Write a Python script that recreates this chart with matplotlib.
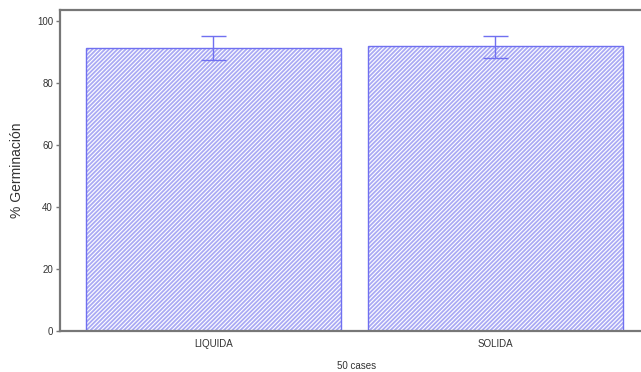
import matplotlib
matplotlib.use("Agg")
import matplotlib.pyplot as plt
import numpy as np

# germination by culture medium
groups    = ["LIQUIDA", "SOLIDA"]
germ_mean = [91.3, 91.9]
err_low   = [87.4, 88.1]
err_high  = [95.2, 95.2]

plt.rcParams['font.family'] = ['Liberation Sans', 'DejaVu Sans']
plt.rcParams['hatch.linewidth'] = 1.3
plt.rcParams['hatch.color'] = "#aaaaf4"

fig = plt.figure(figsize=(6.41, 3.72), dpi=100)
ax = fig.add_axes([60 / 641, 41 / 372, 581 / 641, 321 / 372])

x = np.arange(len(groups))
mean = np.array(germ_mean)
yerr = [mean - np.array(err_low), np.array(err_high) - mean]

# hatched fill, then the outline on top
ax.bar(x, mean, width=0.904, facecolor="white", edgecolor="#aaaaf4",
       hatch="////////", linewidth=0)
ax.bar(x, mean, width=0.904, fill=False, edgecolor="#7070f0", linewidth=1.0)
ax.errorbar(x, mean, yerr=yerr, fmt="none", ecolor="#7070f0",
            elinewidth=1.0, capsize=9, capthick=1.0)

ax.set_xlim(-0.544, 1.516)
ax.set_ylim(0, 103.5)
ax.set_yticks([0, 20, 40, 60, 80, 100])
ax.set_xticks(x)
ax.set_xticklabels(groups)
ax.tick_params(axis="x", length=0, pad=6, labelsize=7, colors="#333333")
ax.tick_params(axis="y", length=3, width=1, pad=2, labelsize=7,
               colors="#333333", color="#777777")

for side in ["left", "top", "bottom"]:
    ax.spines[side].set_color("#777777")
    ax.spines[side].set_linewidth(1.6)
ax.spines["right"].set_visible(False)

ax.set_ylabel("% Germinación", fontsize=10, color="#333333")
ax.yaxis.set_label_coords(-36 / 581, 0.5)
fig.text(357 / 641, 1 - 366 / 372, "50 cases", fontsize=7,
         color="#333333", ha="center", va="center")

fig.savefig("out.png", dpi=100)
